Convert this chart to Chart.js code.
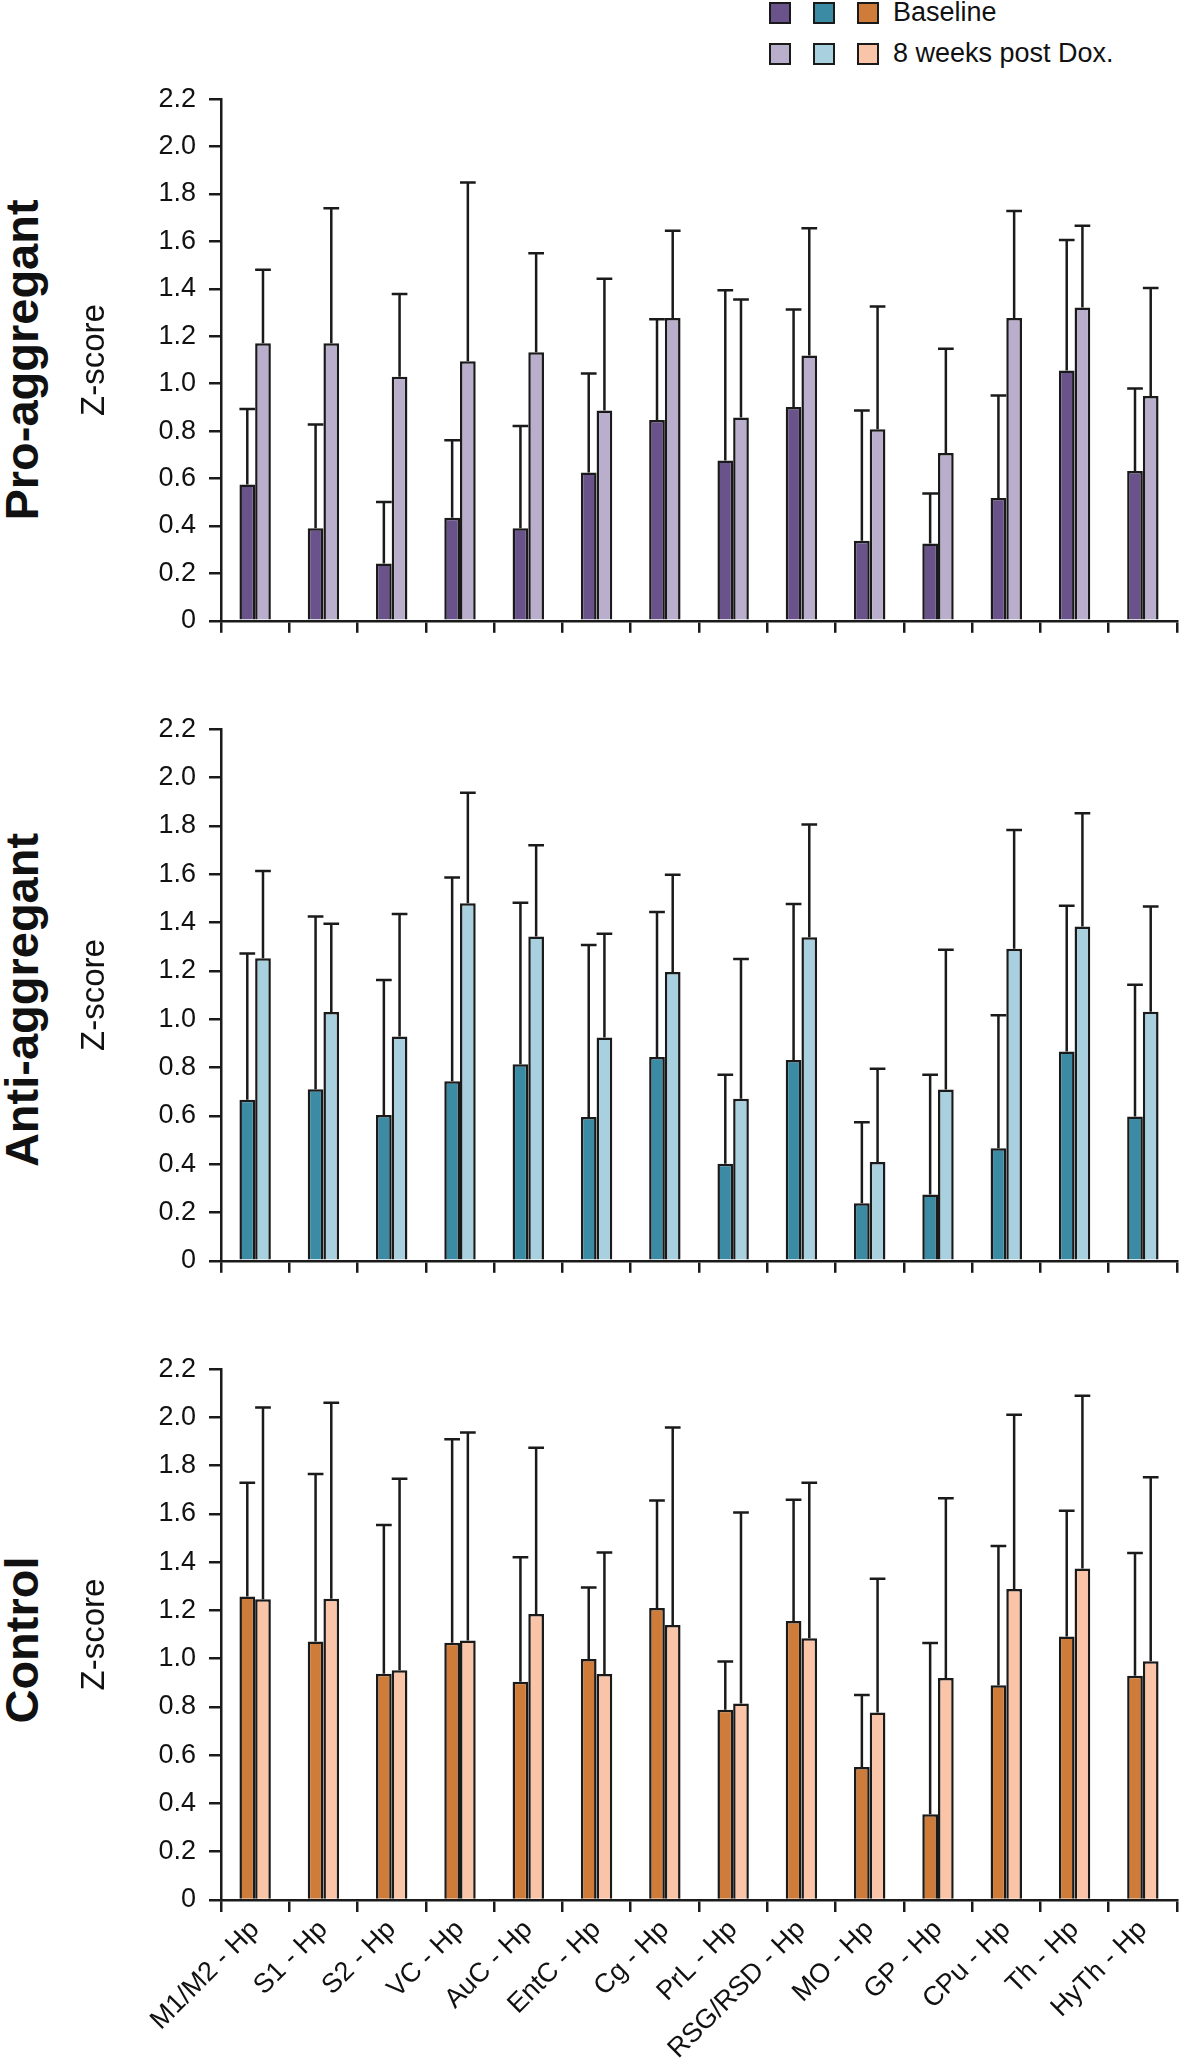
<!DOCTYPE html>
<html>
<head>
<meta charset="utf-8">
<script src="https://cdn.jsdelivr.net/npm/chart.js"></script>
<style>
body { margin:0; width:1181px; height:2064px; position:relative; background:#fff; font-family:"Liberation Sans", Arial, sans-serif; color:#111; overflow:hidden; }
canvas { position:absolute; left:0; }
.group { position:absolute; font-weight:bold; font-size:47px; line-height:47px; white-space:nowrap; transform:translate(-50%,-50%) rotate(-90deg); }
.legend { position:absolute; left:769px; top:0; font-size:27px; }
.row { position:absolute; left:0; width:400px; height:22px; white-space:nowrap; }
.sw { position:absolute; top:0; width:18px; height:18px; border:2px solid #1a1a1a; }
.lab { position:absolute; left:124px; top:-5px; }
</style>
</head>
<body>

<div class="legend">
  <div class="row" style="top:2px">
    <div class="sw" style="left:0;background:#6a538a"></div>
    <div class="sw" style="left:44px;background:#3c8ba5"></div>
    <div class="sw" style="left:88px;background:#cf7c3b"></div>
    <span class="lab">Baseline</span>
  </div>
  <div class="row" style="top:43px">
    <div class="sw" style="left:0;background:#b9aecb"></div>
    <div class="sw" style="left:44px;background:#a9d0df"></div>
    <div class="sw" style="left:88px;background:#f9c4a8"></div>
    <span class="lab">8 weeks post Dox.</span>
  </div>
</div>

<div class="group" style="left:21px;top:360px">Pro-aggregant</div>
<div class="group" style="left:21px;top:1000px">Anti-aggregant</div>
<div class="group" style="left:21px;top:1640px">Control</div>

<canvas id="pro" width="1181" height="580" style="top:70px"></canvas>
<canvas id="anti" width="1181" height="590" style="top:700px"></canvas>
<canvas id="ctrl" width="1181" height="724" style="top:1340px"></canvas>

<script>
// regions (cortex/subcortex - hippocampus)
const regions = ['M1/M2 - Hp', 'S1 - Hp', 'S2 - Hp', 'VC - Hp', 'AuC - Hp', 'EntC - Hp', 'Cg - Hp',
  'PrL - Hp', 'RSG/RSD - Hp', 'MO - Hp', 'GP - Hp', 'CPu - Hp', 'Th - Hp', 'HyTh - Hp'];

const yMax = 2.2;
const yStep = 0.2;

// bar heights and top of error bar
const proBase     = [0.575, 0.390, 0.242, 0.435, 0.390, 0.626, 0.847, 0.676, 0.902, 0.338, 0.326, 0.518, 1.056, 0.632];
const proBaseHi   = [0.893, 0.828, 0.501, 0.762, 0.822, 1.043, 1.272, 1.394, 1.313, 0.887, 0.537, 0.950, 1.606, 0.980];
const proPost     = [1.171, 1.171, 1.029, 1.095, 1.133, 0.887, 1.277, 0.858, 1.119, 0.808, 0.708, 1.277, 1.321, 0.948];
const proPostHi   = [1.481, 1.740, 1.378, 1.849, 1.550, 1.443, 1.645, 1.355, 1.656, 1.326, 1.147, 1.728, 1.666, 1.404];

const antiBase    = [0.666, 0.710, 0.603, 0.743, 0.813, 0.595, 0.843, 0.402, 0.831, 0.238, 0.274, 0.466, 0.866, 0.597];
const antiBaseHi  = [1.272, 1.425, 1.162, 1.586, 1.482, 1.307, 1.443, 0.770, 1.477, 0.573, 0.770, 1.016, 1.469, 1.142];
const antiPost    = [1.252, 1.030, 0.928, 1.480, 1.342, 0.924, 1.195, 0.671, 1.339, 0.409, 0.709, 1.291, 1.384, 1.031];
const antiPostHi  = [1.613, 1.395, 1.435, 1.937, 1.720, 1.353, 1.598, 1.249, 1.806, 0.795, 1.287, 1.783, 1.852, 1.466];

const ctrlBase    = [1.258, 1.071, 0.938, 1.066, 0.905, 0.999, 1.210, 0.789, 1.156, 0.551, 0.355, 0.890, 1.092, 0.929];
const ctrlBaseHi  = [1.729, 1.766, 1.554, 1.910, 1.421, 1.295, 1.656, 0.989, 1.659, 0.850, 1.065, 1.467, 1.613, 1.438];
const ctrlPost    = [1.246, 1.249, 0.952, 1.076, 1.185, 0.937, 1.140, 0.814, 1.085, 0.777, 0.920, 1.289, 1.374, 0.990];
const ctrlPostHi  = [2.041, 2.061, 1.746, 1.938, 1.874, 1.440, 1.958, 1.606, 1.729, 1.331, 1.665, 2.011, 2.090, 1.752];

const ink = '#1a1a1a';
Chart.defaults.font.family = '"Liberation Sans", Arial, sans-serif';
Chart.defaults.color = '#111';

// upward error bars with a cap
const errorBars = {
  id: 'errorBars',
  afterDatasetsDraw(chart) {
    const ctx = chart.ctx;
    const y = chart.scales.y;
    ctx.save();
    ctx.strokeStyle = ink;
    ctx.lineWidth = 2.5;
    chart.data.datasets.forEach((ds, d) => {
      chart.getDatasetMeta(d).data.forEach((bar, i) => {
        const top = y.getPixelForValue(ds.hi[i]);
        const half = bar.width / 2;
        ctx.beginPath();
        ctx.moveTo(bar.x, bar.y);
        ctx.lineTo(bar.x, top);
        ctx.moveTo(bar.x - half, top);
        ctx.lineTo(bar.x + half, top);
        ctx.stroke();
      });
    });
    ctx.restore();
  }
};

function makeChart(id, base, baseHi, post, postHi, colors, padTop, xHeight, showLabels) {
  return new Chart(document.getElementById(id), {
    type: 'bar',
    data: {
      labels: regions,
      datasets: [
        { label: 'Baseline', data: base, hi: baseHi, backgroundColor: colors[0], borderColor: ink, borderWidth: 2.5 },
        { label: '8 weeks post Dox.', data: post, hi: postHi, backgroundColor: colors[1], borderColor: ink, borderWidth: 2.5 }
      ]
    },
    options: {
      responsive: false,
      animation: false,
      layout: { padding: { top: padTop, right: 4, left: 0, bottom: 0 } },
      datasets: { bar: { categoryPercentage: 0.46, barPercentage: 1 } },
      plugins: { legend: { display: false }, tooltip: { enabled: false } },
      scales: {
        x: {
          grid: { drawOnChartArea: false, tickLength: 12, color: ink, lineWidth: 2.5, offset: true },
          border: { color: ink, width: 2.5 },
          ticks: { display: showLabels, autoSkip: false, minRotation: 45, maxRotation: 45, font: { size: 27 }, padding: 2 },
          afterFit: s => { s.height = xHeight; }
        },
        y: {
          min: 0,
          max: yMax,
          ticks: { stepSize: yStep, font: { size: 27 }, padding: 13,
            callback: v => v === 0 ? '0' : v.toFixed(1) },
          grid: { drawOnChartArea: false, tickLength: 12, color: ink, lineWidth: 2.5 },
          border: { color: ink, width: 2.5 },
          title: { display: true, text: 'Z-score', font: { size: 33 }, padding: { top: 75, bottom: 0 } },
          afterFit: s => { s.width = 221; }
        }
      }
    },
    plugins: [errorBars]
  });
}

makeChart('pro', proBase, proBaseHi, proPost, proPostHi, ['#6a538a', '#b9aecb'], 22, 26, false);
makeChart('anti', antiBase, antiBaseHi, antiPost, antiPostHi, ['#3c8ba5', '#a9d0df'], 28, 26, false);
makeChart('ctrl', ctrlBase, ctrlBaseHi, ctrlPost, ctrlPostHi, ['#cf7c3b', '#f9c4a8'], 25, 164, true);
</script>
</body>
</html>
